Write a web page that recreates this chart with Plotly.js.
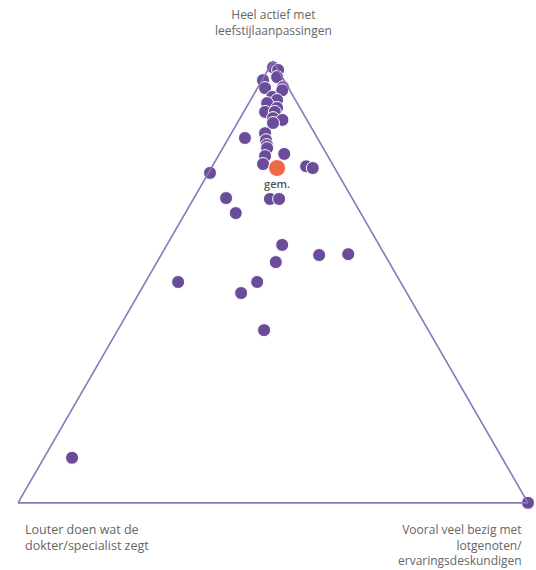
<!DOCTYPE html>
<html>
<head>
<meta charset="utf-8">
<script src="https://cdn.plot.ly/plotly-3.0.1.min.js"></script>
<style>html,body{margin:0;padding:0;background:#fff;}#chart{width:536px;height:570px;}</style>
</head>
<body>
<div id="chart"></div>
<script>
// Ternary shares (percent): a = Heel actief met leefstijlaanpassingen,
// b = Louter doen wat de dokter/specialist zegt, c = Vooral veel bezig met lotgenoten/ervaringsdeskundigen
var aVals = [98.6, 98.0, 95.7, 96.4, 94.1, 93.9, 93.4, 91.9, 91.2, 90.5, 89.4, 88.5, 88.5, 87.1, 86.7, 86.0,
             82.6, 83.7, 82.1, 81.0, 80.3, 78.5, 79.0, 76.7, 76.2, 75.8, 74.7, 69.0, 68.8, 68.8, 65.6,
             58.4, 56.1, 56.3, 54.5, 50.0, 50.0, 47.5, 39.1, 10.2, 0, 0];
var bVals = [0.7, 0.0, 4.1, 1.0, 1.0, 4.6, 1.5, 4.2, 3.6, 5.9, 4.5, 7.3, 5.4, 6.45, 4.8, 7.0,
             14.2, 9.7, 10.3, 10.7, 11.0, 12.3, 8.3, 13.6, 5.4, 4.3, 25.0, 24.7, 16.2, 14.4, 24.5,
             19.0, 12.9, 7.1, 22.2, 43.6, 28.1, 32.5, 32.2, 84.3, 0, 0];
var cVals = [0.7, 2.0, 0.2, 2.6, 4.9, 1.5, 5.1, 3.9, 5.2, 3.6, 6.1, 4.2, 6.1, 6.45, 8.5, 7.0,
             3.2, 6.6, 7.6, 8.3, 8.7, 9.2, 12.7, 9.7, 18.4, 19.9, 0.3, 6.3, 15.0, 16.8, 9.9,
             22.6, 31.0, 36.6, 23.3, 6.4, 21.9, 20.0, 28.7, 5.5, 100, 100];
// Average ("gem.")
var gemA = [75.8], gemB = [11.3], gemC = [12.9];
var gemLabel = ['gem.'];

var axisLabels = {
  a: 'Heel actief met<br>leefstijlaanpassingen',
  b: 'Louter doen wat de<br>dokter/specialist zegt',
  c: 'Vooral veel bezig met<br>lotgenoten/<br>ervaringsdeskundigen'
};

var lineCol = '#8e74ba';
function ax() {
  return {showticklabels:false, ticks:'', showgrid:false, linecolor:lineCol, linewidth:1.6, min:0, title:{text:''}};
}

var traces = [
  {type:'scatterternary', mode:'markers', a:aVals, b:bVals, c:cVals, cliponaxis:false,
   marker:{size:13, color:'#6b4c9a', line:{color:'#ffffff', width:1}}, hoverinfo:'a+b+c'},
  {type:'scatterternary', mode:'markers+text', a:gemA, b:gemB, c:gemC, text:gemLabel, cliponaxis:false,
   textposition:'bottom center', textfont:{family:'Open Sans', size:11, color:'#555555', weight:600},
   marker:{size:17, color:'#ee6a45', line:{color:'#ffffff', width:1}}}
];

var layout = {
  width:536, height:570,
  margin:{l:18, r:8, t:61, b:67},
  paper_bgcolor:'#ffffff',
  showlegend:false,
  font:{family:'Open Sans', color:'#666666', size:12},
  ternary:{sum:100, bgcolor:'#ffffff', aaxis:ax(), baxis:ax(), caxis:ax()},
  annotations:[
    {text:axisLabels.a, xref:'paper', yref:'paper', x:(273-18)/510, y:1+(61-22)/442, xanchor:'center', yanchor:'middle', showarrow:false, align:'center', font:{size:12, color:'#666666'}},
    {text:axisLabels.b, xref:'paper', yref:'paper', x:(23-18)/510, y:-(537-503)/442, xanchor:'left', yanchor:'middle', showarrow:false, align:'left', font:{size:12.5, color:'#666666'}},
    {text:axisLabels.c, xref:'paper', yref:'paper', x:(524-18)/510, y:-(545-503)/442, xanchor:'right', yanchor:'middle', showarrow:false, align:'right', font:{size:12, color:'#666666'}}
  ]
};

Plotly.newPlot('chart', traces, layout, {displayModeBar:false, staticPlot:true});
</script>
</body>
</html>
